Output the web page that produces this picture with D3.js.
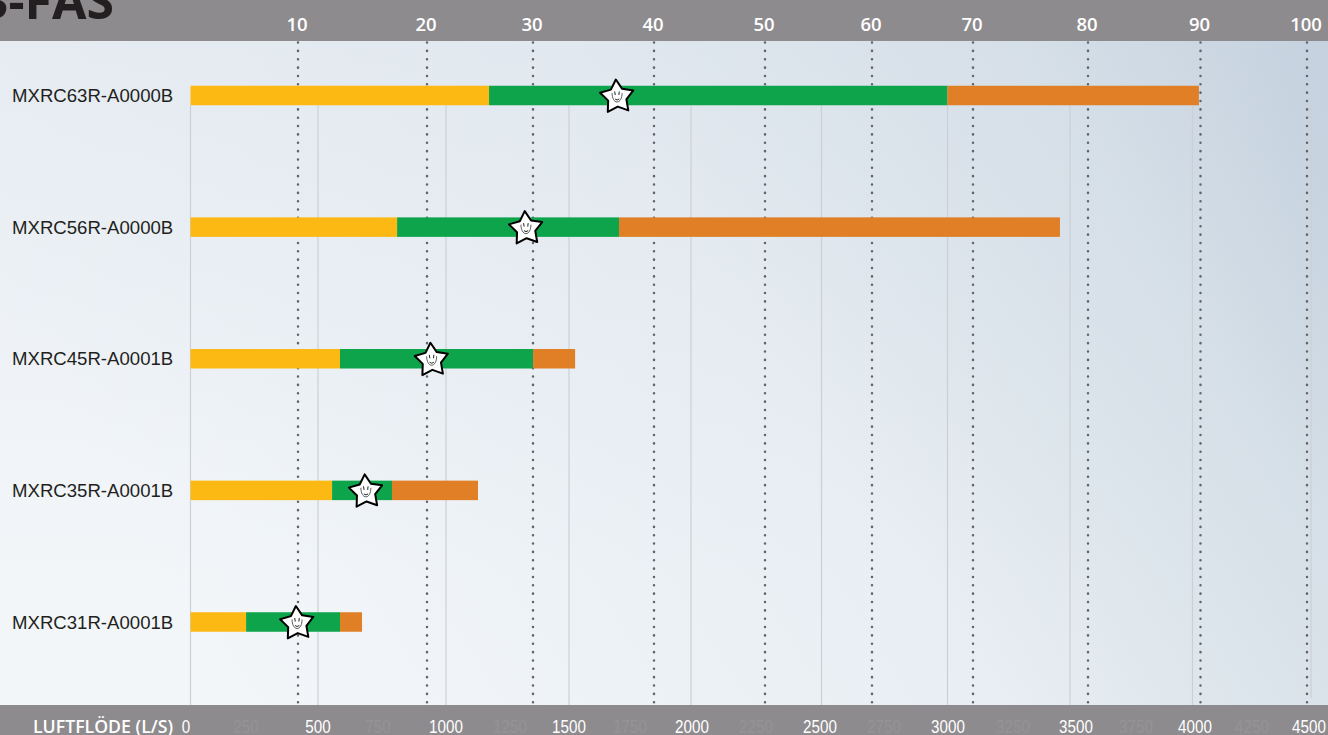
<!DOCTYPE html>
<html>
<head>
<meta charset="utf-8">
<script src="https://cdn.jsdelivr.net/npm/d3@7/dist/d3.min.js"></script>
<style>
    html, body { margin: 0; padding: 0; overflow: hidden; background: #e8edf2; }
    svg { display: block; }
</style>
</head>
<body>
<script>
//define data
var units = ["MXRC63R-A0000B", "MXRC56R-A0000B", "MXRC45R-A0001B", "MXRC35R-A0001B", "MXRC31R-A0001B"];
var lowEnd = [1175, 809, 586, 555, 218];
var midEnd = [3000, 1705, 1354, 789, 586];
var highEnd = [4027, 3459, 1525, 1130, 672];
var starAt = [1697, 1325, 944, 687, 418];

var flowTicks = [0, 250, 500, 750, 1000, 1250, 1500, 1750, 2000, 2250, 2500, 2750, 3000, 3250, 3500, 3750, 4000, 4250, 4500];
var flowGrid = [0, 500, 1000, 1500, 2000, 2500, 3000, 3500, 4000, 4500];
var sizeTicks = [10, 20, 30, 40, 50, 60, 70, 80, 90, 100];

//the printed axes are not evenly spaced, so the scales are piecewise
var flowGridPixels = [190.5, 318, 446, 569, 691, 821.5, 947.5, 1070, 1192.5, 1311];
var flowLabelPixels = [186, 246, 318, 378, 446, 510, 569, 630, 692, 756, 820, 884, 948, 1013, 1076, 1136, 1195, 1252, 1309];
var sizePixels = [298, 427, 533, 654, 765, 872, 973, 1088, 1200.5, 1307];

var colors = { low: "#fdb913", mid: "#0ea44b", high: "#e07f26", band: "#8e8b8e" };

var width = 1328;
var height = 735;
var bandTop = 41;
var bandBottom = 705;
var barHeight = 19.5;

var x = d3.scaleLinear().domain(flowGrid).range(flowGridPixels);
var xLabel = d3.scaleOrdinal().domain(flowTicks).range(flowLabelPixels);
var xSize = d3.scaleOrdinal().domain(sizeTicks).range(sizePixels);
var y = d3.scalePoint().domain(units).range([95.5, 622]);

//create svg
var svg = d3.select("body").append("svg")
    .attr("width", width)
    .attr("height", height);

//background: diagonal fade plus a cooler top
var defs = svg.append("defs");

var grad = defs.append("linearGradient")
    .attr("id", "bg")
    .attr("gradientUnits", "userSpaceOnUse")
    .attr("x1", 250).attr("y1", 720)
    .attr("x2", 1328).attr("y2", 40);
grad.append("stop").attr("offset", "0").attr("stop-color", "#f3f6f9");
grad.append("stop").attr("offset", "0.5").attr("stop-color", "#e8eef3");
grad.append("stop").attr("offset", "0.8").attr("stop-color", "#d5dfe7");
grad.append("stop").attr("offset", "1").attr("stop-color", "#b9c8d7");

var topFade = defs.append("linearGradient")
    .attr("id", "topFade")
    .attr("x1", 0).attr("y1", 0)
    .attr("x2", 0).attr("y2", 1);
topFade.append("stop").attr("offset", "0").attr("stop-color", "#d6dfe9").attr("stop-opacity", 0.4);
topFade.append("stop").attr("offset", "0.8").attr("stop-color", "#d6dfe9").attr("stop-opacity", 0);

svg.append("rect")
    .attr("width", width)
    .attr("height", height)
    .attr("fill", "url(#bg)");

svg.append("rect")
    .attr("y", bandTop)
    .attr("width", width)
    .attr("height", bandBottom - bandTop)
    .attr("fill", "url(#topFade)");

//solid grid lines start under the first bar
svg.append("g").selectAll("line")
    .data(flowGrid)
    .enter()
    .append("line")
    .attr("x1", function(d){return x(d)})
    .attr("x2", function(d){return x(d)})
    .attr("y1", y(units[0]) + barHeight/2)
    .attr("y2", function(d){return d == 4500 ? 698 : bandBottom})
    .attr("stroke", "#ccd0d4")
    .attr("stroke-width", 1.2);

//dotted lines
svg.append("g").selectAll("line")
    .data(sizeTicks)
    .enter()
    .append("line")
    .attr("x1", function(d){return xSize(d)})
    .attr("x2", function(d){return xSize(d)})
    .attr("y1", bandTop + 1.5)
    .attr("y2", bandBottom)
    .attr("stroke", "#64646a")
    .attr("stroke-width", 2.5)
    .attr("stroke-linecap", "round")
    .attr("stroke-dasharray", "0.1 8.25");

//bars
var bars = svg.append("g").selectAll("g")
    .data(units)
    .enter()
    .append("g")
    .attr("transform", function(d){return "translate(0, " + (y(d) - barHeight/2) + ")"});

bars.append("rect")
    .attr("x", x(0))
    .attr("width", function(d, i){return x(lowEnd[i]) - x(0)})
    .attr("height", barHeight)
    .attr("fill", colors.low);

bars.append("rect")
    .attr("x", function(d, i){return x(lowEnd[i])})
    .attr("width", function(d, i){return x(midEnd[i]) - x(lowEnd[i])})
    .attr("height", barHeight)
    .attr("fill", colors.mid);

bars.append("rect")
    .attr("x", function(d, i){return x(midEnd[i])})
    .attr("width", function(d, i){return x(highEnd[i]) - x(midEnd[i])})
    .attr("height", barHeight)
    .attr("fill", colors.high);

//unit names
svg.append("g").selectAll("text")
    .data(units)
    .enter()
    .append("text")
    .text(function(d){return d})
    .attr("x", 12)
    .attr("y", function(d){return y(d) + 6.5})
    .attr("fill", "#231f20")
    .style("font-family", "'Liberation Sans', Arial, sans-serif")
    .style("font-size", "18.6px");

//stars with a small face, fatter than d3.symbolStar
var starPoints = d3.range(10).map(function(i){
    return [i * Math.PI / 5, i % 2 == 0 ? 17.5 : 9.6];
});
var starLine = d3.lineRadial().curve(d3.curveLinearClosed);

var stars = svg.append("g").selectAll("g")
    .data(units)
    .enter()
    .append("g")
    .attr("transform", function(d, i){return "translate(" + x(starAt[i]) + ", " + (y(d) + 0.5) + ")"});

stars.append("path")
    .attr("d", starLine(starPoints))
    .attr("transform", "translate(0, 1) rotate(-4)")
    .attr("fill", "#ffffff")
    .attr("stroke", "#000000")
    .attr("stroke-width", 2)
    .attr("stroke-linejoin", "round");

stars.append("path")
    .attr("d", "M-5,-3 C-5,2 -3,6 0,6 C3,6 5,2 5,-3")
    .attr("fill", "none")
    .attr("stroke", "#333")
    .attr("stroke-width", 0.8);

stars.append("path")
    .attr("d", "M-2.4,-4.5 L-1.8,-1 M2.2,-4.5 L1.8,-1 M-2,3 Q0,5 2.2,3")
    .attr("fill", "none")
    .attr("stroke", "#222")
    .attr("stroke-width", 1);

//top and bottom bands
svg.append("rect")
    .attr("width", width)
    .attr("height", bandTop)
    .attr("fill", colors.band);

svg.append("rect")
    .attr("y", bandBottom)
    .attr("width", width)
    .attr("height", height - bandBottom)
    .attr("fill", colors.band);

//title is cut off by the top of the page
svg.append("text")
    .text("3-FAS")
    .attr("x", 114)
    .attr("y", 19)
    .attr("text-anchor", "end")
    .attr("fill", "#231f20")
    .style("font-family", "'Open Sans', sans-serif")
    .style("font-weight", 700)
    .style("font-size", "50px");

//top axis labels
svg.append("g").selectAll("text")
    .data(sizeTicks)
    .enter()
    .append("text")
    .text(function(d){return d})
    .attr("x", function(d){return xSize(d) - 1})
    .attr("y", 31)
    .attr("text-anchor", "middle")
    .attr("fill", "#ffffff")
    .style("font-family", "'Open Sans', sans-serif")
    .style("font-weight", 600)
    .style("font-size", "18.5px");

//bottom axis
svg.append("text")
    .text("LUFTFLÖDE (L/S)")
    .attr("x", 33)
    .attr("y", 733)
    .attr("fill", "#ffffff")
    .style("font-family", "'Open Sans', sans-serif")
    .style("font-weight", 600)
    .style("font-size", "17.7px");

svg.append("g").selectAll("text")
    .data(flowTicks)
    .enter()
    .append("text")
    .text(function(d){return d})
    .attr("transform", function(d){return "translate(" + xLabel(d) + ", 733) scale(0.8, 1)"})
    .attr("text-anchor", "middle")
    .attr("fill", function(d){return d % 500 == 0 ? "#ffffff" : "#969396"})
    .style("font-family", "'Liberation Sans', sans-serif")
    .style("font-size", "19px");
</script>
</body>
</html>
